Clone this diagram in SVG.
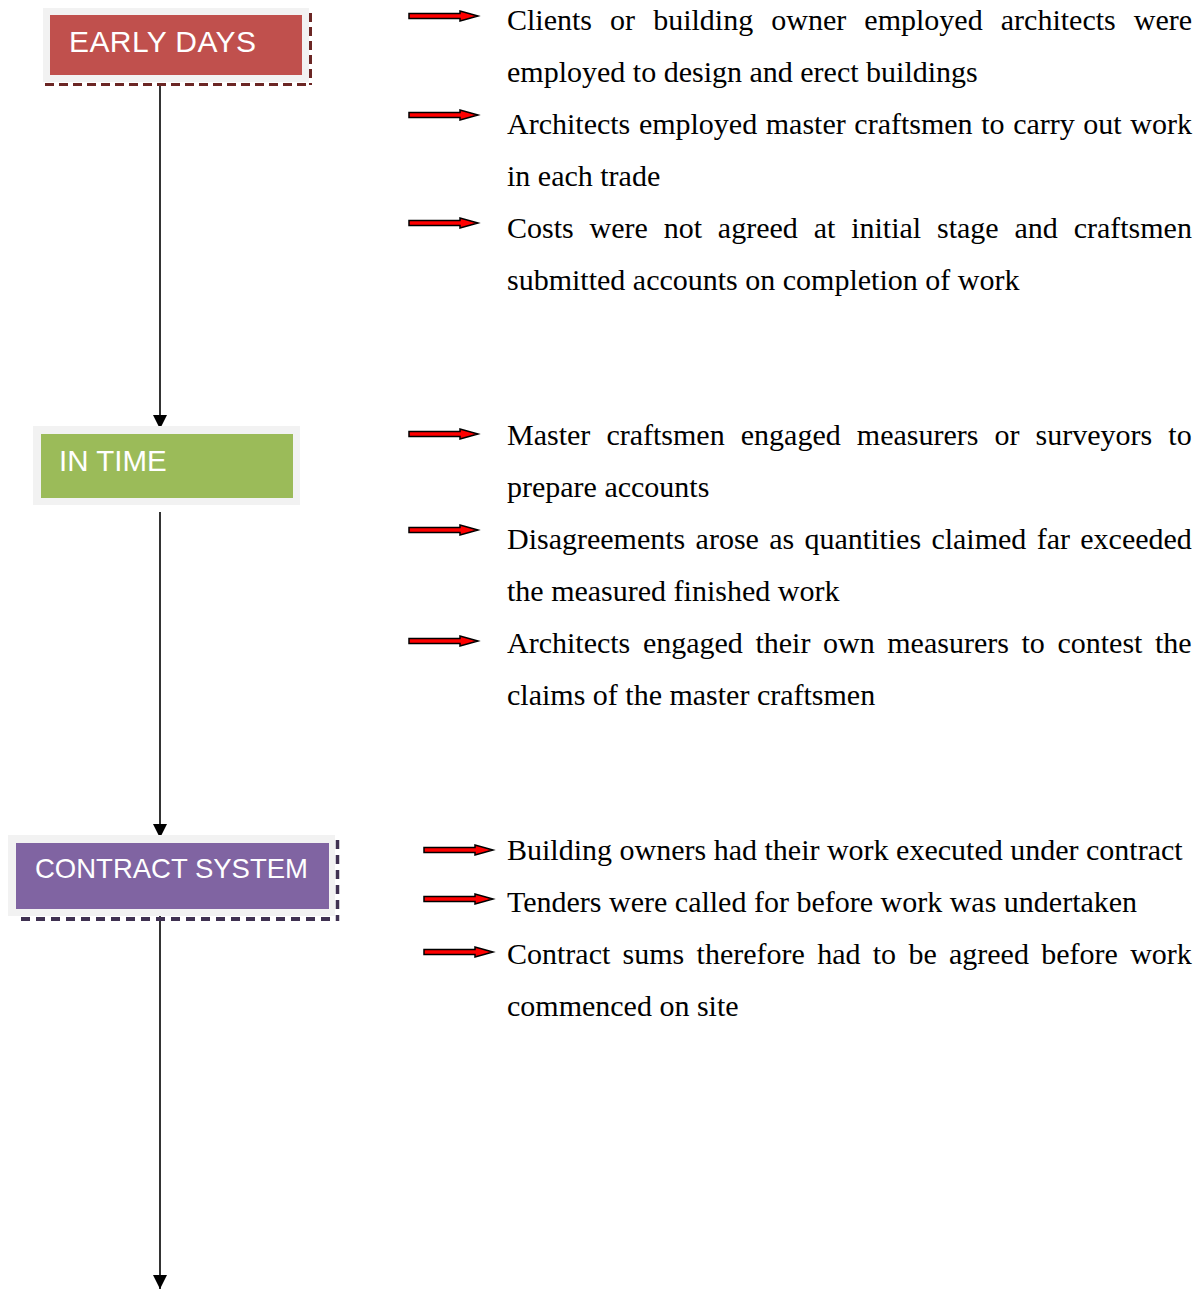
<svg xmlns="http://www.w3.org/2000/svg" width="1201" height="1289" viewBox="0 0 1201 1289">
<style>
.t{font-family:"Liberation Serif","Times New Roman",serif;font-size:30px;fill:#000}
.lbl{font-family:"Liberation Sans",Arial,sans-serif;fill:#fff}
.conn{stroke:#000;stroke-width:1.6;fill:none}
.arr{fill:#ff0000;stroke:#000;stroke-width:1.5;stroke-linejoin:miter}
.outer{fill:#f2f2f2}
</style>
<defs>
<marker id="ah" markerWidth="14" markerHeight="14" viewBox="0 0 14 14" refX="14" refY="7" orient="auto" markerUnits="userSpaceOnUse">
<path d="M0,0 L14,7 L0,14 Z" fill="#000"/>
</marker>
<path id="ra" d="M0,-2.5 L51,-2.5 L51,-5 L69,0 L51,5 L51,2.5 L0,2.5 Z"/>
</defs>
<rect width="1201" height="1289" fill="#fff"/>

<g id="connectors">
<line class="conn" x1="160" y1="86" x2="160" y2="429" marker-end="url(#ah)"/>
<line class="conn" x1="160" y1="512" x2="160" y2="838" marker-end="url(#ah)"/>
<line class="conn" x1="160" y1="912" x2="160" y2="1289" marker-end="url(#ah)"/>
<use href="#ra" class="arr" x="409" y="16"/>
<use href="#ra" class="arr" x="409" y="115"/>
<use href="#ra" class="arr" x="409" y="223"/>
<use href="#ra" class="arr" x="409" y="434"/>
<use href="#ra" class="arr" x="409" y="530"/>
<use href="#ra" class="arr" x="409" y="641"/>
<use href="#ra" class="arr" x="424" y="850"/>
<use href="#ra" class="arr" x="424" y="899"/>
<use href="#ra" class="arr" x="424" y="952"/>
</g>

<g id="early-days">
<line x1="45" y1="84.5" x2="311" y2="84.5" stroke="#6b2624" stroke-width="3" stroke-dasharray="9 5"/>
<line x1="310.5" y1="13" x2="310.5" y2="85" stroke="#6b2624" stroke-width="3" stroke-dasharray="9 5"/>
<rect class="outer" x="43" y="8" width="266" height="74"/>
<rect x="50" y="15" width="252" height="60" fill="#c0504d"/>
<text class="lbl" x="69" y="51.5" font-size="30" letter-spacing="0.4">EARLY DAYS</text>
</g>

<g id="in-time">
<rect class="outer" x="33" y="426" width="267" height="79"/>
<rect x="41" y="434" width="252" height="64" fill="#9bbb59"/>
<text class="lbl" x="59" y="471" font-size="29.5">IN TIME</text>
</g>

<g id="contract-system">
<line x1="21" y1="919" x2="338" y2="919" stroke="#3f3151" stroke-width="4" stroke-dasharray="9 6"/>
<line x1="337.5" y1="840" x2="337.5" y2="921" stroke="#3f3151" stroke-width="3.5" stroke-dasharray="9 6"/>
<rect class="outer" x="8" y="835" width="327" height="81"/>
<rect x="16" y="843" width="313" height="66" fill="#8064a2"/>
<text class="lbl" x="35" y="877.5" font-size="27.5">CONTRACT SYSTEM</text>
</g>

<g id="early-days-text">
<text class="t" x="507" y="30" word-spacing="10.6">Clients or building owner employed architects were</text>
<text class="t" x="507" y="82">employed to design and erect buildings</text>
<text class="t" x="507" y="134" word-spacing="1.1">Architects employed master craftsmen to carry out work</text>
<text class="t" x="507" y="186">in each trade</text>
<text class="t" x="507" y="238" word-spacing="8.35">Costs were not agreed at initial stage and craftsmen</text>
<text class="t" x="507" y="290">submitted accounts on completion of work</text>
</g>

<g id="in-time-text">
<text class="t" x="507" y="445" word-spacing="8.6">Master craftsmen engaged measurers or surveyors to</text>
<text class="t" x="507" y="497">prepare accounts</text>
<text class="t" x="507" y="549" word-spacing="2.8">Disagreements arose as quantities claimed far exceeded</text>
<text class="t" x="507" y="601">the measured finished work</text>
<text class="t" x="507" y="653" word-spacing="5.1">Architects engaged their own measurers to contest the</text>
<text class="t" x="507" y="705">claims of the master craftsmen</text>
</g>

<g id="contract-text">
<text class="t" x="507" y="860">Building owners had their work executed under contract</text>
<text class="t" x="507" y="912">Tenders were called for before work was undertaken</text>
<text class="t" x="507" y="964" word-spacing="4.8">Contract sums therefore had to be agreed before work</text>
<text class="t" x="507" y="1016">commenced on site</text>
</g>
</svg>
